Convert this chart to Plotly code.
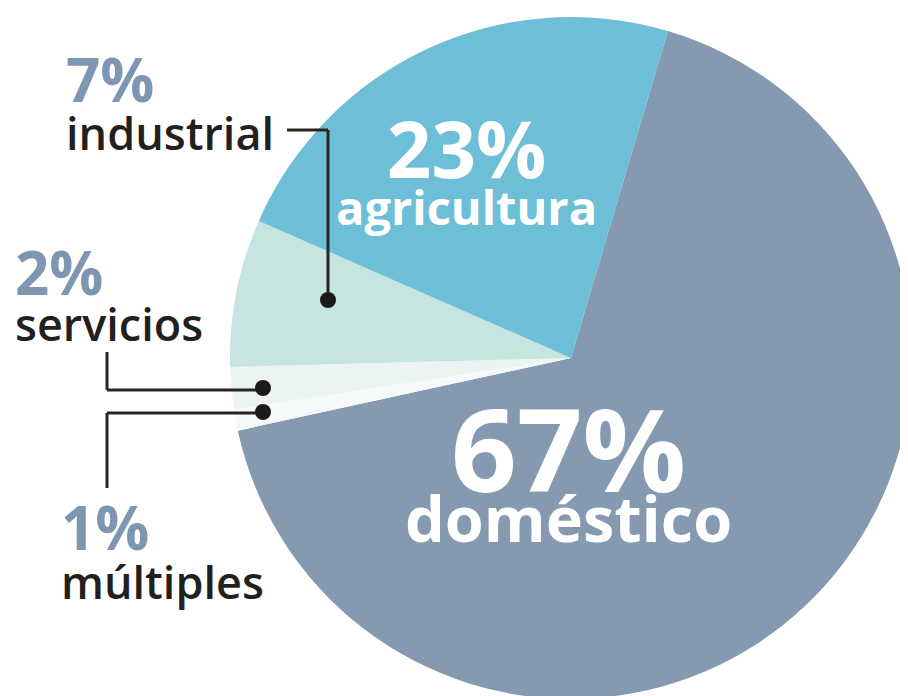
import plotly.graph_objects as go

# Data
categories = ["doméstico", "múltiples", "servicios", "industrial", "agricultura"]
values = [67, 1, 2, 7, 23]
pct_labels = ["67%", "1%", "2%", "7%", "23%"]
colors = ["#8599b0", "#f6f9f9", "#ebf4f3", "#c6e4e0", "#6cbfd7"]

# page has an 8px body margin; figure coordinates are page pixels minus 8
OFF = 8
W, H = 910, 700
def px(x):
    return (x - OFF) / W
def py(y):
    return 1 - (y - OFF) / H

cx, cy, r = 571, 358, 341

fig = go.Figure(go.Pie(
    labels=categories,
    values=values,
    sort=False,
    direction="clockwise",
    rotation=16.5,
    marker=dict(colors=colors, line=dict(width=0)),
    textinfo="none",
    hoverinfo="label+percent",
    showlegend=False,
    domain=dict(x=[px(cx - r), px(cx + r)], y=[py(cy + r), py(cy - r)]),
))

FONT = "Open Sans"
ann = []
def add2(x, y, top, bottom, s_top, s_bot, c_top, c_bot, w_top, w_bot, line_size, xanchor, align):
    text = (f'<span style="font-size:{s_top}px;font-weight:{w_top};color:{c_top}">{top}</span><br>'
            f'<span style="font-size:{s_bot}px;font-weight:{w_bot};color:{c_bot}">{bottom}</span>')
    ann.append(dict(x=px(x), y=py(y), text=text, align=align,
                    font=dict(family=FONT, color=c_bot, size=line_size),
                    showarrow=False, xanchor=xanchor, yanchor="middle"))

# doméstico
add2(568, 465, pct_labels[0], categories[0], 115, 63, "white", "white", 700, 700, 38.5, "center", "center")
# agricultura
add2(466, 167, pct_labels[4], categories[4], 78, 47, "white", "white", 700, 700, 36, "center", "center")

pct_color = "#7e96b2"
lab_color = "#231f1c"
# left labels: (index, x, y_center, line_size)
for i, x0, yc, ls in [(3, 64, 100, 37), (2, 13, 292, 35), (1, 59, 549, 38)]:
    add2(x0, yc, pct_labels[i], categories[i], 60, 45, pct_color, lab_color, 700, 600, ls, "left", "left")

line_style = dict(color="#2a2420", width=3)
shapes = []
def seg(x0, y0, x1, y1):
    shapes.append(dict(type="line", xref="paper", yref="paper",
                       x0=px(x0), y0=py(y0), x1=px(x1), y1=py(y1), line=line_style))
def dot(x, y):
    shapes.append(dict(type="circle", xref="paper", yref="paper", xsizemode="pixel", ysizemode="pixel",
                       xanchor=px(x), yanchor=py(y), x0=-8, x1=8, y0=-8, y1=8,
                       fillcolor="#1c1a19", line=dict(width=0)))
# industrial leader
seg(287, 130, 328, 130)
seg(328, 130, 328, 300)
dot(328, 300)
# servicios leader
seg(107, 352, 107, 390)
seg(107, 390, 262, 390)
dot(263, 388)
# múltiples leader
seg(263, 413, 107, 413)
seg(107, 413, 107, 488)
dot(263, 412)

fig.update_layout(
    width=W, height=H,
    margin=dict(l=0, r=0, t=0, b=0),
    paper_bgcolor="white",
    plot_bgcolor="white",
    annotations=ann,
    shapes=shapes,
)
fig.write_html("out.html")
